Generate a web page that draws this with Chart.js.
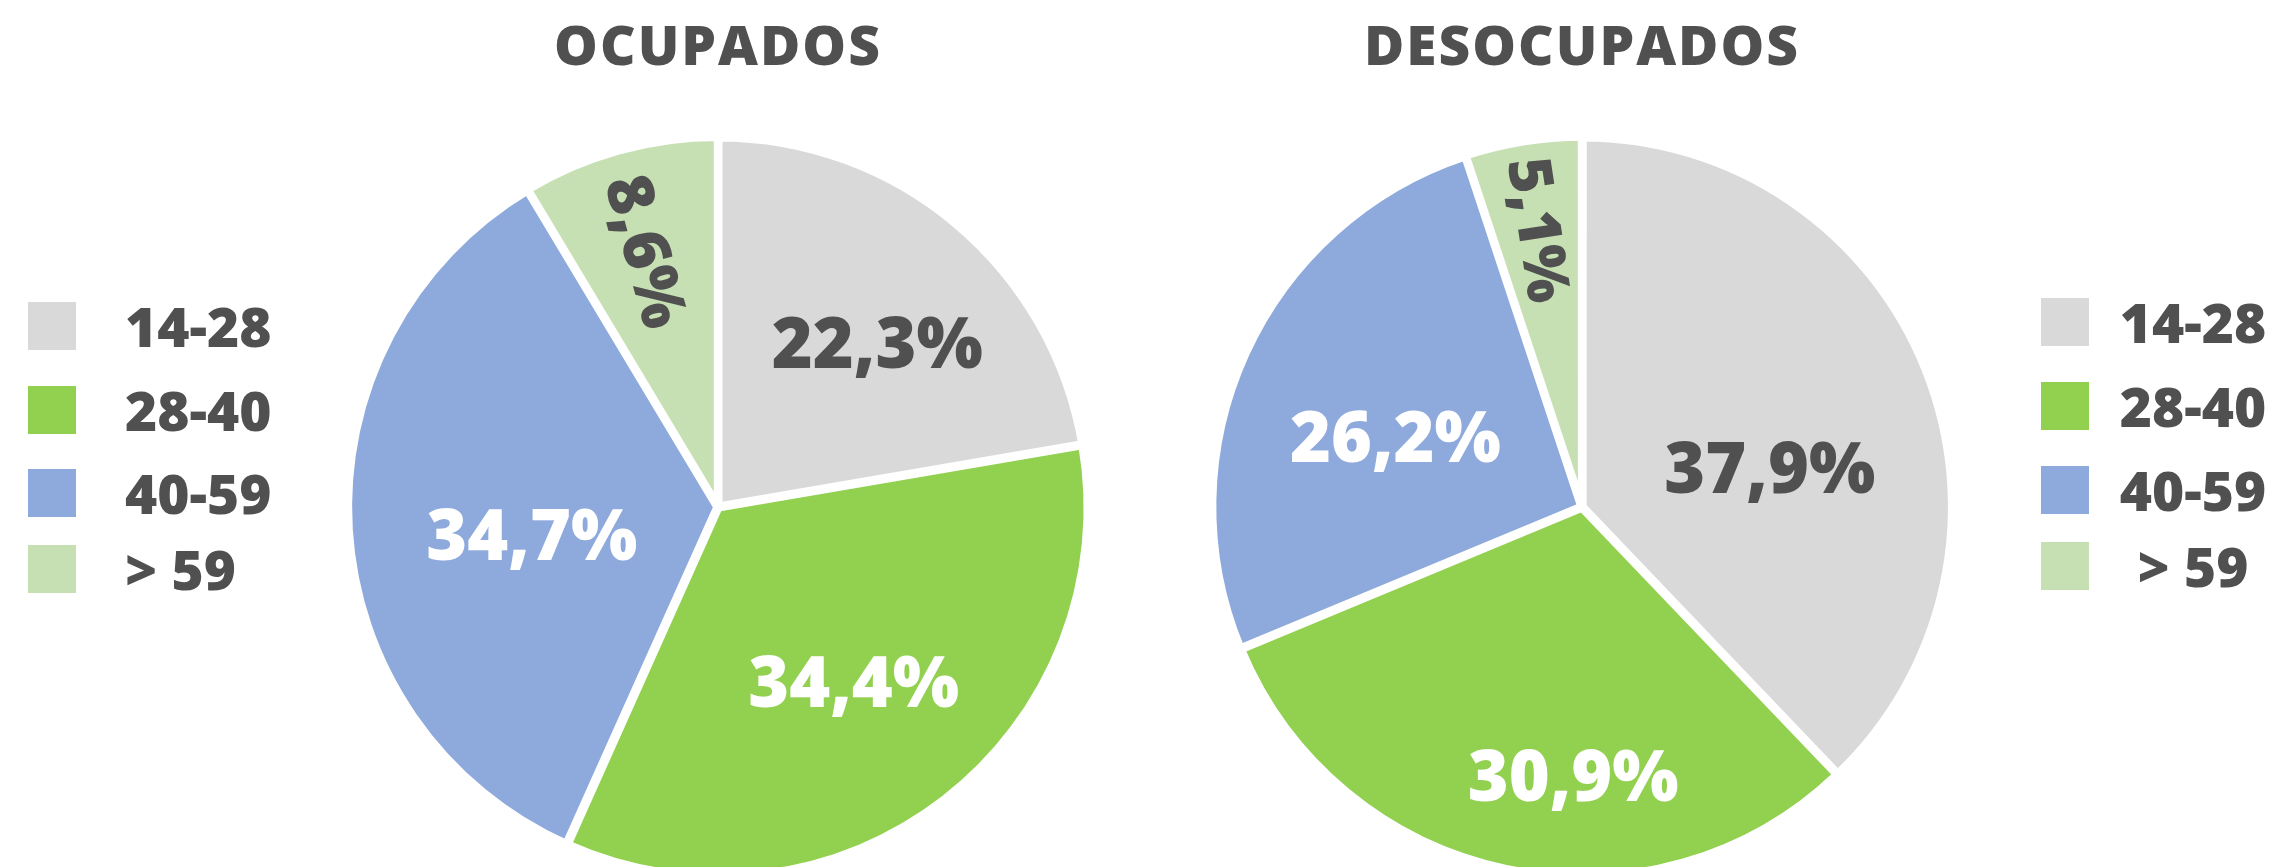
<!DOCTYPE html>
<html>
<head>
<meta charset="utf-8">
<script src="https://cdn.jsdelivr.net/npm/chart.js@4"></script>
<style>
  html, body { margin: 0; padding: 0; background: #ffffff; }
  body { width: 2280px; height: 867px; overflow: hidden; position: relative;
         font-family: "Open Sans", "Liberation Sans", sans-serif; color: #505050; }
  .title { position: absolute; top: 16px; width: 700px; text-align: center;
           font-size: 55px; line-height: 55px; font-weight: 800; letter-spacing: 2px; white-space: nowrap; }
  canvas { position: absolute; top: 0; }
  .legend { position: absolute; left: 0; top: 0; }
  .item { position: absolute; height: 48px; display: flex; align-items: center; }
  .swatch { width: 48px; height: 48px; }
  .ltext { position: absolute; font-size: 55px; line-height: 48px; font-weight: 800; white-space: nowrap; top: 0; }
</style>
</head>
<body>
<div id="t0" class="title"></div>
<div id="t1" class="title"></div>
<canvas id="c0" width="800" height="1014" style="left:318px"></canvas>
<canvas id="c1" width="800" height="1014" style="left:1182px"></canvas>
<div id="legL" class="legend"></div>
<div id="legR" class="legend"></div>
<script>
// ---- data ----
const categories = ['14-28', '28-40', '40-59', '> 59'];
const ocupados = [22.3, 34.4, 34.7, 8.6];
const desocupados = [37.9, 30.9, 26.2, 5.1];
const titles = ['OCUPADOS', 'DESOCUPADOS'];

// ---- style ----
const colors = ['#D9D9D9', '#92D050', '#8EA9DB', '#C6E0B4'];
const darkText = '#505050';
const labelColors = [
  [darkText, '#ffffff', '#ffffff', darkText],
  [darkText, '#ffffff', '#ffffff', darkText]
];
// label placement: radial fraction of radius, angular nudge (deg), rotate along radius
const labelRadius = [[0.62, 0.60, 0.51, 0.72], [0.52, 0.73, 0.54, 0.76]];
const labelNudge = [[4, 0, -5, 0], [10, -10, -4, 0.5]];
const labelRotate = [[false, false, false, true], [false, false, false, true]];
const labelSize = [[70, 70, 70, 64], [70, 70, 70, 60]];
const RADIUS = 369;

const centersX = [718, 1582];
titles.forEach((t, i) => {
  const el = document.getElementById('t' + i);
  el.textContent = t;
  el.style.left = (centersX[i] - 350) + 'px';
});

// legends
const legTopsL = [302, 386, 469, 545];
const legTopsR = [298, 382, 466, 542];
const legL = document.getElementById('legL');
const legR = document.getElementById('legR');
categories.forEach((c, i) => {
  const a = document.createElement('div');
  a.className = 'item';
  a.style.left = '28px'; a.style.top = legTopsL[i] + 'px';
  a.innerHTML = '<div class="swatch" style="background:' + colors[i] + '"></div>';
  const ta = document.createElement('div');
  ta.className = 'ltext'; ta.textContent = c; ta.style.left = '97px';
  a.appendChild(ta);
  legL.appendChild(a);

  const b = document.createElement('div');
  b.className = 'item';
  b.style.left = '2041px'; b.style.top = legTopsR[i] + 'px';
  b.innerHTML = '<div class="swatch" style="background:' + colors[i] + '"></div>';
  const tb = document.createElement('div');
  tb.className = 'ltext'; tb.textContent = c;
  tb.style.left = '152px'; tb.style.transform = 'translateX(-50%)';
  b.appendChild(tb);
  legR.appendChild(b);
});

const fmt = v => v.toFixed(1).replace('.', ',') + '%';

const labelPlugin = {
  id: 'sliceLabels',
  afterDatasetsDraw(chart) {
    const idx = chart.options.plugins.sliceLabels.index;
    const ctx = chart.ctx;
    const meta = chart.getDatasetMeta(0);
    const data = chart.data.datasets[0].data;
    meta.data.forEach((arc, i) => {
      const fs = labelSize[idx][i];
      const p = arc.getProps(['x', 'y', 'startAngle', 'endAngle', 'outerRadius'], true);
      const mid = (p.startAngle + p.endAngle) / 2 + labelNudge[idx][i] * Math.PI / 180;
      const r = RADIUS * labelRadius[idx][i];
      const x = p.x + Math.cos(mid) * r;
      const y = p.y + Math.sin(mid) * r;
      ctx.save();
      ctx.translate(x, y);
      if (labelRotate[idx][i]) ctx.rotate(mid + Math.PI);
      ctx.font = '800 ' + fs + 'px "Open Sans", "Liberation Sans", sans-serif';
      ctx.fillStyle = labelColors[idx][i];
      ctx.textAlign = 'center';
      ctx.textBaseline = 'alphabetic';
      ctx.fillText(fmt(data[i]), 0, fs * 0.357);
      ctx.restore();
    });
  }
};

function makePie(id, values, index) {
  return new Chart(document.getElementById(id), {
    type: 'pie',
    data: {
      labels: categories,
      datasets: [{
        data: values,
        backgroundColor: colors,
        borderColor: '#ffffff',
        borderWidth: 8,
        offset: 3,
        hoverOffset: 0
      }]
    },
    options: {
      responsive: false,
      animation: false,
      events: [],
      radius: RADIUS,
      layout: { padding: 0 },
      plugins: {
        legend: { display: false },
        tooltip: { enabled: false },
        title: { display: false },
        sliceLabels: { index: index }
      }
    },
    plugins: [labelPlugin]
  });
}

makePie('c0', ocupados, 0);
makePie('c1', desocupados, 1);
</script>
</body>
</html>
